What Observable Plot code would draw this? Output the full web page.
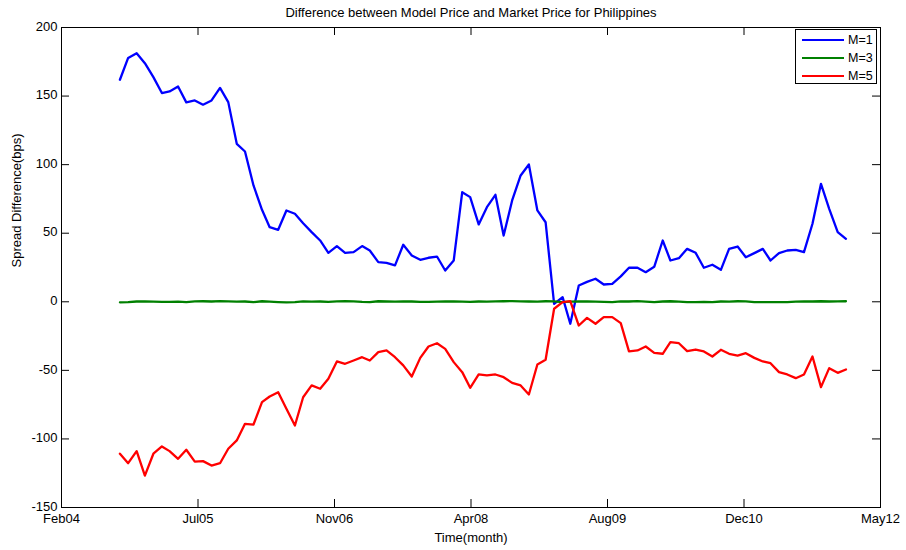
<!DOCTYPE html>
<html>
<head>
<meta charset="utf-8">
<script src="https://cdn.jsdelivr.net/npm/d3@7"></script>
<script src="https://cdn.jsdelivr.net/npm/@observablehq/plot@0.6"></script>
<style>
  html, body { margin: 0; padding: 0; background: #fff; }
  #wrap { position: relative; width: 906px; height: 550px; font-family: "Liberation Sans", Arial, sans-serif; }
  #legend { position: absolute; left: 795px; top: 29px; width: 82px; height: 55px; border: 1px solid #000; background: #fff; box-sizing: border-box; font-size: 12.5px; }
  #legend .row { position: absolute; left: 0; height: 16px; display: flex; align-items: center; }
  #legend .sw { display: inline-block; width: 42px; height: 2px; margin-left: 6px; margin-right: 4px; }
</style>
</head>
<body>
<div id="wrap"></div>
<script>
const titleText = "Difference between Model Price and Market Price for Philippines";
const xLabel = "Time(month)";
const yLabel = "Spread Difference(bps)";
const seriesNames = ["M=1", "M=3", "M=5"];
const seriesColors = ["#0000ff", "#008000", "#ff0000"];
const xTickLabels = ["Feb04", "Jul05", "Nov06", "Apr08", "Aug09", "Dec10", "May12"];
const yTicks = [-150, -100, -50, 0, 50, 100, 150, 200];
const xStart = new Date(Date.UTC(2004, 1, 1));
const xEnd = new Date(Date.UTC(2012, 3, 5));
const firstMonth = new Date(Date.UTC(2004, 8, 1));
const lastMonthExclusive = new Date(Date.UTC(2012, 0, 1));

const m1 = [161.9,177.8,181.3,174,163.8,152.2,153.4,157,145.4,146.8,143.7,146.8,156,145.6,115.2,109.6,84.8,67.1,54.4,52.5,66.6,64.2,57.3,50.8,44.7,35.7,40.6,35.7,36.2,40.6,37.4,28.9,28.4,
26.5,41.6,33.8,30.6,32.1,33.0,22.8,30.1,79.9,76.3,56.4,69.0,78.0,48.3,73.9,92.1,100.1,66.6,58.0,-1.5,3.4,-16.0,11.9,14.5,16.8,12.6,13.1,18.5,24.8,24.8,21.6,25.5,44.7,30.1,31.8,38.6,35.7,24.8,27.0,23.3,38.6,40.3,32.5,35.5,38.6,30.1,35.5,37.4,37.9,36.2,56.9,86.0,67.8,50.8,45.9];
const m3 = [-0.4,-0.3,0.2,0.3,0.1,-0.1,0.0,0.1,-0.2,0.3,0.4,0.2,0.5,0.3,0.1,0.2,-0.3,0.4,0.1,-0.2,-0.4,-0.2,0.3,0.1,0.2,-0.1,0.3,0.4,0.3,-0.1,-0.3,0.4,0.2,
0.1,0.3,0.2,0.0,-0.1,0.1,0.2,0.3,0.1,0.0,0.2,0.1,0.3,0.4,0.5,0.3,0.2,0.1,0.4,0.3,-0.2,0.1,0.3,0.2,0.1,0.0,-0.2,0.3,0.2,0.5,0.1,-0.3,0.2,0.4,0.1,-0.2,-0.3,-0.1,-0.3,0.2,0.1,0.4,0.3,-0.2,-0.3,-0.3,-0.2,-0.3,0.1,0.3,0.2,0.4,0.2,0.3,0.4];
const m5 = [-110.8,-117.7,-108.9,-126.7,-110.8,-105.5,-108.9,-114.5,-107.9,-116.5,-116.2,-119.4,-117.7,-107.2,-101.1,-89.0,-89.5,-73.2,-69.1,-65.9,-78.0,-90.2,-69.6,-61.0,-63.4,-56.1,-43.5,-45.2,-42.8,-40.4,-42.8,-36.7,-35.5,
-40.4,-46.4,-54.5,-40.9,-32.6,-30.2,-34.3,-44.0,-51.3,-62.7,-53.0,-53.7,-53.0,-55.0,-59.1,-61.0,-67.6,-45.7,-42.3,-5.1,-0.3,0.5,-17.3,-11.7,-16.0,-11.2,-11.2,-15.6,-36.2,-35.5,-32.6,-37.2,-37.9,-29.4,-30.2,-36.0,-34.8,-36.2,-39.9,-35.0,-37.9,-39.2,-37.5,-40.9,-43.5,-44.8,-51.3,-53.0,-55.7,-53.0,-39.9,-62.2,-48.4,-51.8,-49.4];

const dates = d3.utcMonth.range(firstMonth, lastMonthExclusive);
const seriesValues = [m1, m3, m5];
const rows = [];
seriesValues.forEach((vals, s) => vals.forEach((v, i) => rows.push({date: dates[i], value: v, series: seriesNames[s]})));

const tickPos = d3.scaleLinear().domain([0, xTickLabels.length - 1]).range([+xStart, +xEnd]);
const xTickDates = xTickLabels.map((_, i) => new Date(tickPos(i)));

const chart = Plot.plot({
  width: 906,
  height: 550,
  marginLeft: 61,
  marginRight: 26,
  marginTop: 27,
  marginBottom: 43,
  style: { fontFamily: "Liberation Sans, Arial, sans-serif", fontSize: "13px", color: "#000", background: "#fff" },
  x: { type: "utc", domain: [xStart, xEnd] },
  y: { domain: [-150, 200] },
  color: { domain: seriesNames, range: seriesColors },
  marks: [
    Plot.line(rows, { x: "date", y: "value", z: "series", stroke: "series", strokeWidth: 2.3 }),
    Plot.frame({ stroke: "#000", strokeWidth: 1 }),
    Plot.tickX(xTickDates, { x: d => d, insetTop: 472, stroke: "#000" }),
    Plot.tickX(xTickDates, { x: d => d, insetBottom: 472, stroke: "#000" }),
    Plot.tickY(yTicks, { y: d => d, insetRight: 811, stroke: "#000" }),
    Plot.tickY(yTicks, { y: d => d, insetLeft: 811, stroke: "#000" }),
    Plot.axisX(xTickDates, { tickSize: 0, tickPadding: 6, label: null, tickFormat: (d, i) => xTickLabels[i], fontSize: 13 }),
    Plot.axisY(yTicks, { tickSize: 0, tickPadding: 4, label: null, tickFormat: d => String(d), fontSize: 13, dy: -1 }),
    Plot.text([xLabel], { frameAnchor: "bottom", lineAnchor: "middle", dy: 30, fontSize: 13 }),
    Plot.text([yLabel], { frameAnchor: "left", rotate: -90, dx: -45, fontSize: 13 }),
    Plot.text([titleText], { frameAnchor: "top", lineAnchor: "middle", dy: -15, fontSize: 13 })
  ]
});

const wrap = document.getElementById("wrap");
wrap.appendChild(chart);

const legend = document.createElement("div");
legend.id = "legend";
seriesNames.forEach((name, i) => {
  const row = document.createElement("div");
  row.className = "row";
  row.style.top = (2 + i * 18) + "px";
  const sw = document.createElement("span");
  sw.className = "sw";
  sw.style.background = seriesColors[i];
  const lab = document.createElement("span");
  lab.textContent = name;
  row.appendChild(sw);
  row.appendChild(lab);
  legend.appendChild(row);
});
wrap.appendChild(legend);
</script>
</body>
</html>
